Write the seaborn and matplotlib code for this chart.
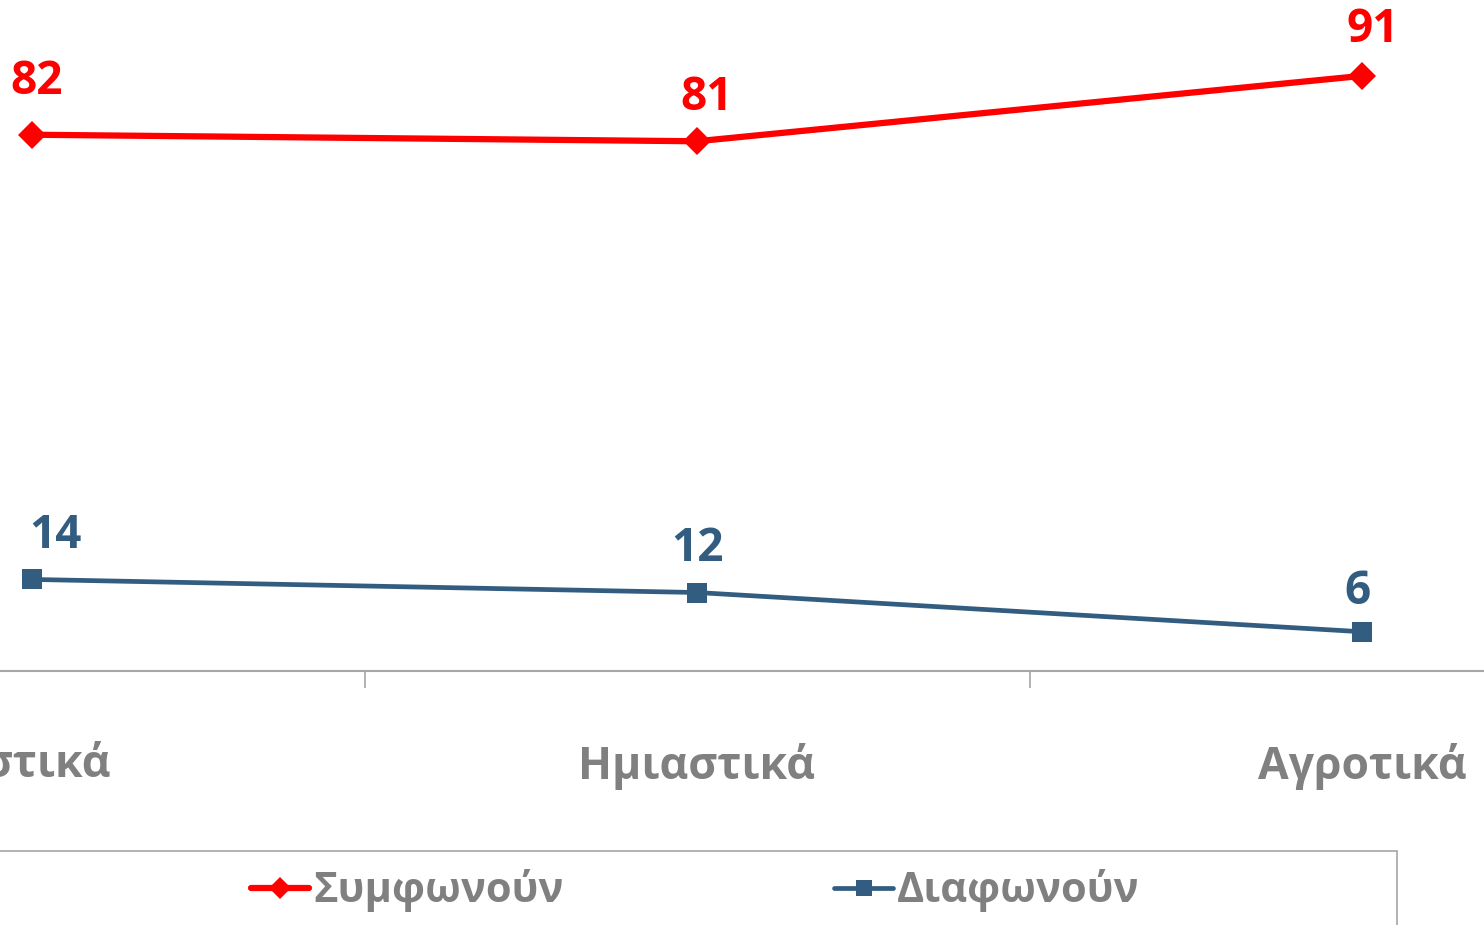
import matplotlib
matplotlib.use("Agg")
import matplotlib.pyplot as plt
from matplotlib.patches import Rectangle
from matplotlib.lines import Line2D
import seaborn as sns
import pandas as pd

categories = ["Αστικά", "Ημιαστικά", "Αγροτικά"]
agree = [82, 81, 91]
disagree = [14, 12, 6]
series_names = ["Συμφωνούν", "Διαφωνούν"]

RED = "#FF0000"
BLUE = "#325D80"
GRAY = "#808080"

sns.set_theme(style="white")
plt.rcParams["font.family"] = ["Open Sans", "DejaVu Sans"]

df = pd.DataFrame({
    "area": categories * 2,
    "value": agree + disagree,
    "series": [series_names[0]] * 3 + [series_names[1]] * 3,
})

fig = plt.figure(figsize=(14.84, 9.25), dpi=100)
ax = fig.add_axes([-300.5 / 1484, (925 - 671) / 925, 1995 / 1484, 654 / 925])

styles = {
    series_names[0]: dict(color=RED, marker="D", lw=4.5, ms=14),
    series_names[1]: dict(color=BLUE, marker="s", lw=3.4, ms=14),
}
for name in series_names:
    st = styles[name]
    sns.lineplot(data=df[df["series"] == name], x="area", y="value", ax=ax,
                 color=st["color"], marker=st["marker"], linewidth=st["lw"],
                 markersize=st["ms"], markeredgewidth=0, sort=False, legend=False)

# label offsets in pixels (dx, dy above the point)
label_off = {series_names[0]: [(5, 53), (10, 44), (11, 46)],
             series_names[1]: [(23, 44), (1, 44), (-4, 40)]}
for name, vals in [(series_names[0], agree), (series_names[1], disagree)]:
    col = styles[name]["color"]
    for i, v in enumerate(vals):
        dx, dy = label_off[name][i]
        ax.annotate(str(v), (i, v), xytext=(dx * 0.72, dy * 0.72),
                    textcoords="offset points", ha="center", va="center",
                    fontsize=33, fontweight="bold", color=col)

ax.set_xlim(-0.5, 2.5)
ax.set_ylim(0, 100)
ax.set_xlabel("")
ax.set_ylabel("")
ax.set_yticks([])
for s in ["top", "right", "left"]:
    ax.spines[s].set_visible(False)
ax.spines["bottom"].set_color("#A6A6A6")
ax.spines["bottom"].set_linewidth(1.5)
ax.set_xticks(range(len(categories)))
ax.set_xticklabels(categories, fontsize=32, fontweight="bold", color=GRAY)
ax.tick_params(axis="x", which="major", length=0, pad=52)
ax.set_xticks([0.5, 1.5], minor=True)
ax.tick_params(axis="x", which="minor", bottom=True, length=12, width=1.2,
               color="#A6A6A6", direction="out")

# legend frame (extends beyond the figure edges as in the reference)
fig.patches.append(Rectangle((-11 / 1484, -0.05), (1397 + 11) / 1484, 0.05 + (925 - 851) / 925,
                             transform=fig.transFigure, fill=False,
                             edgecolor="#A6A6A6", linewidth=1.2))
handles = [Line2D([], [], color=styles[n]["color"], marker=styles[n]["marker"],
                  lw=styles[n]["lw"], ms=11, markeredgewidth=0) for n in series_names]
leg = fig.legend(handles, series_names, loc="center",
                 bbox_to_anchor=(695 / 1484, 1 - 891 / 925), ncol=2, frameon=False,
                 fontsize=30, handlelength=1.4, handletextpad=0.1, columnspacing=6.5)
for t in leg.get_texts():
    t.set_color(GRAY)
    t.set_fontweight("bold")

fig.savefig("out.png", dpi=100)
